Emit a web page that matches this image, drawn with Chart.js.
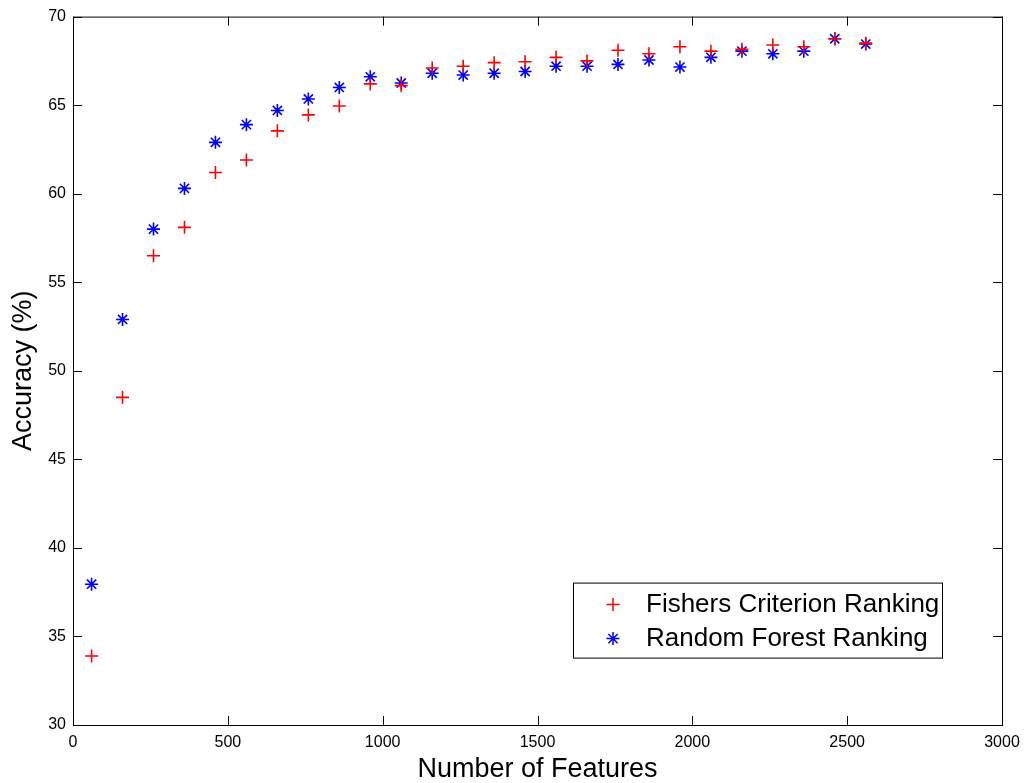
<!DOCTYPE html>
<html>
<head>
<meta charset="utf-8">
<title>Accuracy vs Number of Features</title>
<script src="https://cdn.jsdelivr.net/npm/chart.js@4.4.1/dist/chart.umd.min.js"></script>
<style>
    html, body { margin: 0; padding: 0; background: #fff; }
    #wrap { width: 1035px; height: 783px; }
</style>
</head>
<body>
<div id="wrap"><canvas id="accuracyChart" width="1035" height="783"></canvas></div>
<script>
// data
const featureCounts = [60, 160, 260, 360, 460, 560, 660, 760, 860, 960, 1060, 1160, 1260,
    1360, 1460, 1560, 1660, 1760, 1860, 1960, 2060, 2160, 2260, 2360, 2460, 2560];
const fisherAccuracy = [33.9, 48.5, 56.5, 58.1, 61.2, 61.9, 63.55, 64.45, 64.95, 66.2, 66.1, 67.1, 67.2,
    67.4, 67.45, 67.7, 67.5, 68.1, 67.9, 68.3, 68.05, 68.15, 68.4, 68.3, 68.75, 68.5];
const forestAccuracy = [37.95, 52.9, 58.0, 60.3, 62.9, 63.9, 64.7, 65.35, 66.0, 66.6, 66.25, 66.8, 66.7,
    66.8, 66.9, 67.2, 67.2, 67.3, 67.55, 67.15, 67.7, 68.05, 67.9, 68.05, 68.75, 68.45];
const xTicks = [0, 500, 1000, 1500, 2000, 2500, 3000];
const yTicks = [30, 35, 40, 45, 50, 55, 60, 65, 70];
const seriesLabels = ["Fishers Criterion Ranking", "Random Forest Ranking"];

const FONT = "'Liberation Sans', Arial, Helvetica, sans-serif";

function toPoints(xs, ys) {
    return xs.map((x, i) => ({ x: x, y: ys[i] }));
}

// matlab style box, inward ticks and boxed legend
const frameAndLegend = {
    id: "frameAndLegend",
    afterDraw(chart) {
        const { ctx, chartArea: a, scales } = chart;
        const tl = 9;
        ctx.save();
        ctx.strokeStyle = "#000";
        ctx.lineWidth = 1;
        ctx.strokeRect(a.left + 0.5, a.top + 0.5, a.right - a.left, a.bottom - a.top);

        ctx.beginPath();
        xTicks.forEach(v => {
            const px = Math.round(scales.x.getPixelForValue(v)) + 0.5;
            ctx.moveTo(px, a.bottom); ctx.lineTo(px, a.bottom - tl);
            ctx.moveTo(px, a.top); ctx.lineTo(px, a.top + tl);
        });
        yTicks.forEach(v => {
            const py = Math.round(scales.y.getPixelForValue(v)) + 0.5;
            ctx.moveTo(a.left, py); ctx.lineTo(a.left + tl, py);
            ctx.moveTo(a.right, py); ctx.lineTo(a.right - tl, py);
        });
        ctx.stroke();

        // legend
        const bx = a.left + 500, by = a.top + 566, bw = 369, bh = 75;
        ctx.fillStyle = "#fff";
        ctx.fillRect(bx, by, bw, bh);
        ctx.strokeRect(bx + 0.5, by + 0.5, bw, bh);

        const rows = [by + 22, by + 56];
        const mx = bx + 40, r = 6.5;
        ctx.lineWidth = 1.5;
        // red plus
        ctx.strokeStyle = "#ff0000";
        ctx.beginPath();
        ctx.moveTo(mx - r, rows[0]); ctx.lineTo(mx + r, rows[0]);
        ctx.moveTo(mx, rows[0] - r); ctx.lineTo(mx, rows[0] + r);
        ctx.stroke();
        // blue star
        ctx.strokeStyle = "#0000ff";
        ctx.beginPath();
        const d = r * Math.SQRT1_2;
        ctx.moveTo(mx - r, rows[1]); ctx.lineTo(mx + r, rows[1]);
        ctx.moveTo(mx, rows[1] - r); ctx.lineTo(mx, rows[1] + r);
        ctx.moveTo(mx - d, rows[1] - d); ctx.lineTo(mx + d, rows[1] + d);
        ctx.moveTo(mx - d, rows[1] + d); ctx.lineTo(mx + d, rows[1] - d);
        ctx.stroke();

        ctx.fillStyle = "#000";
        ctx.font = "26px " + FONT;
        ctx.textBaseline = "middle";
        ctx.textAlign = "left";
        ctx.fillText(seriesLabels[0], bx + 73, rows[0]);
        ctx.fillText(seriesLabels[1], bx + 73, rows[1]);
        ctx.restore();
    }
};

const ctx = document.getElementById("accuracyChart").getContext("2d");

new Chart(ctx, {
    type: "scatter",
    data: {
        datasets: [
            {
                label: seriesLabels[0],
                data: toPoints(featureCounts, fisherAccuracy),
                pointStyle: "cross",
                pointRadius: 6.5,
                pointBorderWidth: 1.6,
                borderColor: "#ff0000",
                backgroundColor: "#ff0000",
                showLine: false,
            },
            {
                label: seriesLabels[1],
                data: toPoints(featureCounts, forestAccuracy),
                pointStyle: "star",
                pointRadius: 6.5,
                pointBorderWidth: 1.6,
                borderColor: "#0000ff",
                backgroundColor: "#0000ff",
                showLine: false,
            },
        ],
    },
    options: {
        responsive: false,
        animation: false,
        devicePixelRatio: 1,
        layout: { padding: { top: 15, right: 33, left: 0, bottom: 0 } },
        plugins: {
            legend: { display: false },
            tooltip: { enabled: false },
        },
        scales: {
            x: {
                type: "linear",
                min: 0,
                max: 3000,
                afterBuildTicks: s => { s.ticks = xTicks.map(v => ({ value: v })); },
                afterFit: s => { s.height = 58; },
                grid: { display: false, drawTicks: false },
                border: { display: false },
                ticks: {
                    color: "#000",
                    padding: 8,
                    font: { family: FONT, size: 16 },
                    callback: v => String(v),
                },
                title: {
                    display: true,
                    text: "Number of Features",
                    color: "#000",
                    font: { family: FONT, size: 27 },
                    padding: { top: 0, bottom: -3 },
                },
            },
            y: {
                type: "linear",
                min: 30,
                max: 70,
                afterBuildTicks: s => { s.ticks = yTicks.map(v => ({ value: v })); },
                afterFit: s => { s.width = 73; },
                grid: { display: false, drawTicks: false },
                border: { display: false },
                ticks: {
                    color: "#000",
                    padding: 7,
                    font: { family: FONT, size: 16 },
                    callback: v => String(v),
                },
                title: {
                    display: true,
                    text: "Accuracy (%)",
                    color: "#000",
                    font: { family: FONT, size: 27 },
                    padding: { top: 7, bottom: 0 },
                },
            },
        },
    },
    plugins: [frameAndLegend],
});
</script>
</body>
</html>
